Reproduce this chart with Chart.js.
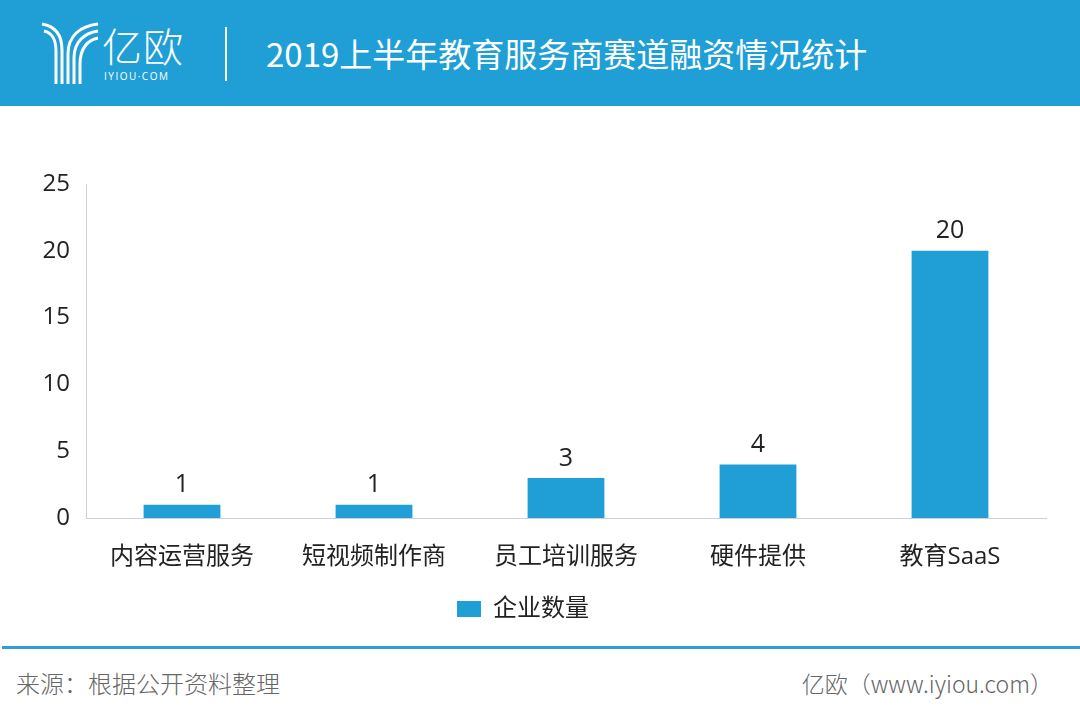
<!DOCTYPE html>
<html>
<head>
<meta charset="utf-8">
<script src="https://cdn.jsdelivr.net/npm/chart.js@4"></script>
<style>
  body { margin: 0; width: 1080px; height: 719px; background: #fff; overflow: hidden; position: relative;
         font-family: "Open Sans", "Noto Sans CJK SC", sans-serif; }
  .header { position: absolute; left: 0; top: 0; width: 1080px; height: 106px; background: #1f9fd5; }
  .brand { position: absolute; left: 102px; top: 20px; color: #fff; font-family: "Noto Sans CJK SC"; font-size: 40px; font-weight: 300; line-height: 50px; letter-spacing: 1px; }
  .brand-sub { position: absolute; left: 104px; top: 69px; color: #fff; font-size: 10px; letter-spacing: 1.5px; }
  .sep { position: absolute; left: 225px; top: 27px; width: 2px; height: 54px; background: #fff; }
  .title { position: absolute; left: 266px; top: 31px; color: #fff; font-family: "Noto Sans CJK SC"; font-size: 33px; line-height: 44px; }
  .footline { position: absolute; left: 2px; top: 646px; width: 1078px; height: 3px; background: #2d9fd0; }
  .foot { position: absolute; top: 667px; color: #666; font-family: "Noto Sans CJK SC"; font-weight: 300; line-height: 32px; }
  #wrap { position: absolute; left: 0; top: 110px; width: 1080px; height: 536px; }
</style>
</head>
<body>
<div class="header">
  <svg style="position:absolute;left:40px;top:20px" width="60" height="66" viewBox="0 0 60 66">
    <g fill="none" stroke="#fff" stroke-width="3">
      <path d="M2 4 C14 6 22 14 22 30 L22 64"/>
      <path d="M4 11 C13 13 16 20 16 32 L16 64"/>
      <path d="M58 4 C40 6 28 16 28 34 L28 64"/>
      <path d="M58 11 C44 13 34 22 34 38 L34 64"/>
      <path d="M58 18 C48 20 40 28 40 44 L40 64"/>
    </g>
  </svg>
  <div class="brand">亿欧</div>
  <div class="brand-sub">IYIOU·COM</div>
  <div class="sep"></div>
  <div class="title">2019上半年教育服务商赛道融资情况统计</div>
</div>

<div id="wrap"><canvas id="chart"></canvas></div>

<div class="footline"></div>
<div class="foot" style="left:16px; font-size:24px">来源：根据公开资料整理</div>
<div class="foot" style="right:27px; font-size:23px">亿欧（www.iyiou.com）</div>

<script>
const categories = ["内容运营服务", "短视频制作商", "员工培训服务", "硬件提供", "教育SaaS"];
const companyCounts = [1, 1, 3, 4, 20];
const seriesLabel = "企业数量";
const yTicks = [0, 5, 10, 15, 20, 25];

const barColor = "#1f9fd5";
const fontFamily = "'Open Sans', 'Noto Sans CJK SC', sans-serif";

// draw values above bars
const valueLabels = {
  id: "valueLabels",
  afterDatasetsDraw(chart) {
    const ctx = chart.ctx;
    const meta = chart.getDatasetMeta(0);
    ctx.save();
    ctx.font = "25px " + fontFamily;
    ctx.fillStyle = "#222";
    ctx.textAlign = "center";
    ctx.textBaseline = "bottom";
    meta.data.forEach((bar, i) => {
      ctx.fillText(String(companyCounts[i]), bar.x, bar.y - 7);
    });
    ctx.restore();
  }
};

new Chart(document.getElementById("chart"), {
  type: "bar",
  data: {
    labels: categories,
    datasets: [{
      label: seriesLabel,
      data: companyCounts,
      backgroundColor: barColor,
      barPercentage: 0.8,
      categoryPercentage: 0.5
    }]
  },
  options: {
    responsive: true,
    maintainAspectRatio: false,
    animation: false,
    layout: { padding: { top: 74, right: 34, bottom: 15, left: 0 } },
    plugins: {
      legend: {
        position: "bottom",
        labels: {
          boxWidth: 24,
          boxHeight: 16,
          padding: 14,
          color: "#222",
          font: { size: 24, family: fontFamily }
        }
      },
      tooltip: { enabled: false }
    },
    scales: {
      x: {
        afterFit: scale => { scale.height = 65; },
        grid: { display: false, drawTicks: false },
        border: { color: "#d0d0d0", width: 1 },
        ticks: { color: "#222", padding: 25, font: { size: 24, family: fontFamily } }
      },
      y: {
        min: 0,
        max: 25,
        afterBuildTicks: scale => { scale.ticks = yTicks.map(v => ({ value: v })); },
        afterFit: scale => { scale.width = 86; },
        grid: { display: false, drawTicks: false },
        border: { color: "#d0d0d0", width: 1 },
        ticks: { color: "#222", padding: 16, font: { size: 24, family: fontFamily } }
      }
    }
  },
  plugins: [valueLabels]
});
</script>
</body>
</html>
